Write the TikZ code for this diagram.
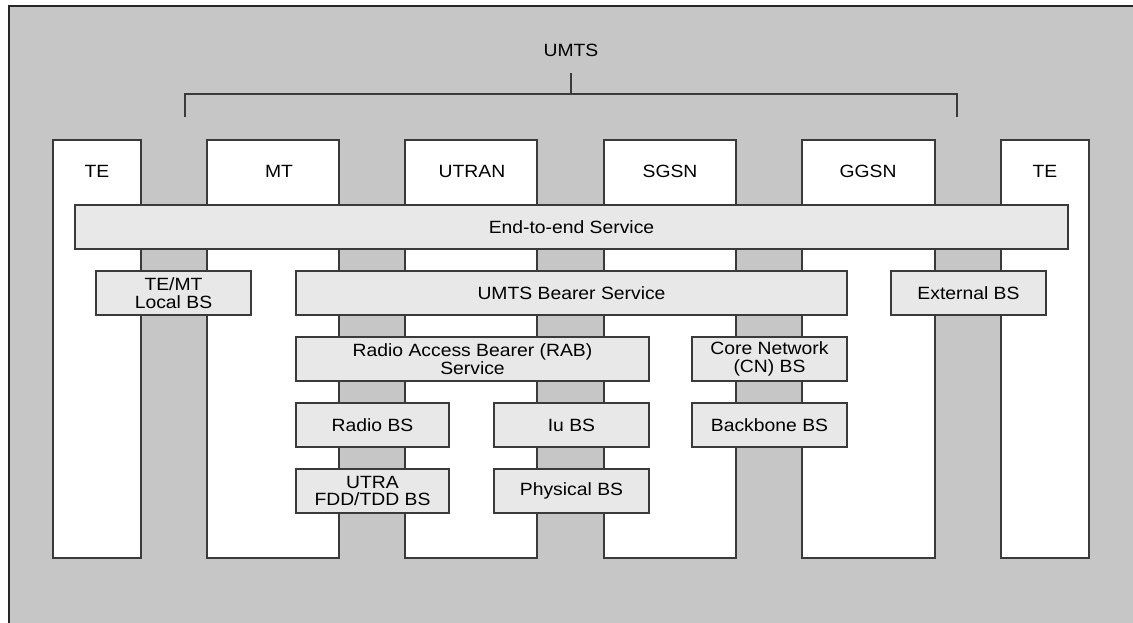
\documentclass[tikz,border=0pt]{standalone}
\usepackage{fontspec}
\setmainfont{Liberation Sans}[FakeStretch=1.09]
\definecolor{panelgray}{HTML}{C6C6C6}
\definecolor{svcgray}{HTML}{E8E8E8}
\definecolor{edge}{HTML}{3A3A3A}
\begin{document}
\begin{tikzpicture}[x=0.75pt,y=-0.75pt,
  every node/.style={font=\fontsize{13.3}{13.4}\selectfont, inner sep=0pt, outer sep=0pt},
  column/.style={draw=edge, line width=1.3pt, fill=white, anchor=north west,
                 minimum width=#1*0.75pt, minimum height=418*0.75pt},
  svc/.style={draw=edge, line width=1pt, fill=svcgray, align=center, anchor=north west,
              minimum width=#1*0.75pt, minimum height=44*0.75pt},
  bracket/.style={draw=edge, line width=1.1pt}]
\useasboundingbox (0,0) rectangle (1133,623);

% panel background, open to the right and bottom
\begin{scope}
  \clip (0,0) rectangle (1133,623);
  \draw[fill=panelgray, draw=black!85, line width=1.1pt] (9,6) rectangle (1160,650);
\end{scope}

% network element columns
\node[column=88]  (te1)   at (53,140)   {};
\node[column=132] (mt)    at (207,140)  {};
\node[column=132] (utran) at (405,140)  {};
\node[column=132] (sgsn)  at (604,140)  {};
\node[column=133] (ggsn)  at (802,140)  {};
\node[column=88]  (te2)   at (1001,140) {};

\node (lte1)   at (97,171)   {TE};
\node (lmt)    at (279,171)  {MT};
\node (lutran) at (472,171)  {UTRAN};
\node (lsgsn)  at (670,171)  {SGSN};
\node (lggsn)  at (868,171)  {GGSN};
\node (lte2)   at (1045,171) {TE};

% UMTS bracket
\node (umts) at (571,50) {UMTS};
\coordinate (btop) at (571,94);
\coordinate (btick) at (571,73);
\coordinate (bl) at (185,117);
\coordinate (br) at (957,117);
\draw[bracket] (bl) -- (bl |- btop) -- (br |- btop) -- (br);
\draw[bracket] (btop) -- (btick);

% bearer services
\node[svc=993] (e2e)   at (75,205)  {End-to-end Service};
\node[svc=155] (local) at (96,271)  {TE/MT\\Local BS};
\node[svc=551] (ubs)   at (296,271) {UMTS Bearer Service};
\node[svc=155] (ext)   at (891,271) {External BS};
\node[svc=353] (rab)   at (296,337) {Radio Access Bearer (RAB)\\Service};
\node[svc=155] (cn)    at (692,337) {Core Network\\(CN) BS};
\node[svc=153] (radio) at (296,403) {Radio BS};
\node[svc=155] (iu)    at (494,403) {Iu BS};
\node[svc=155] (bb)    at (692,403) {Backbone BS};
\node[svc=153] (utra)  at (296,469) {UTRA\\FDD/TDD BS};
\node[svc=155] (phys)  at (494,469) {Physical BS};
\end{tikzpicture}
\end{document}
